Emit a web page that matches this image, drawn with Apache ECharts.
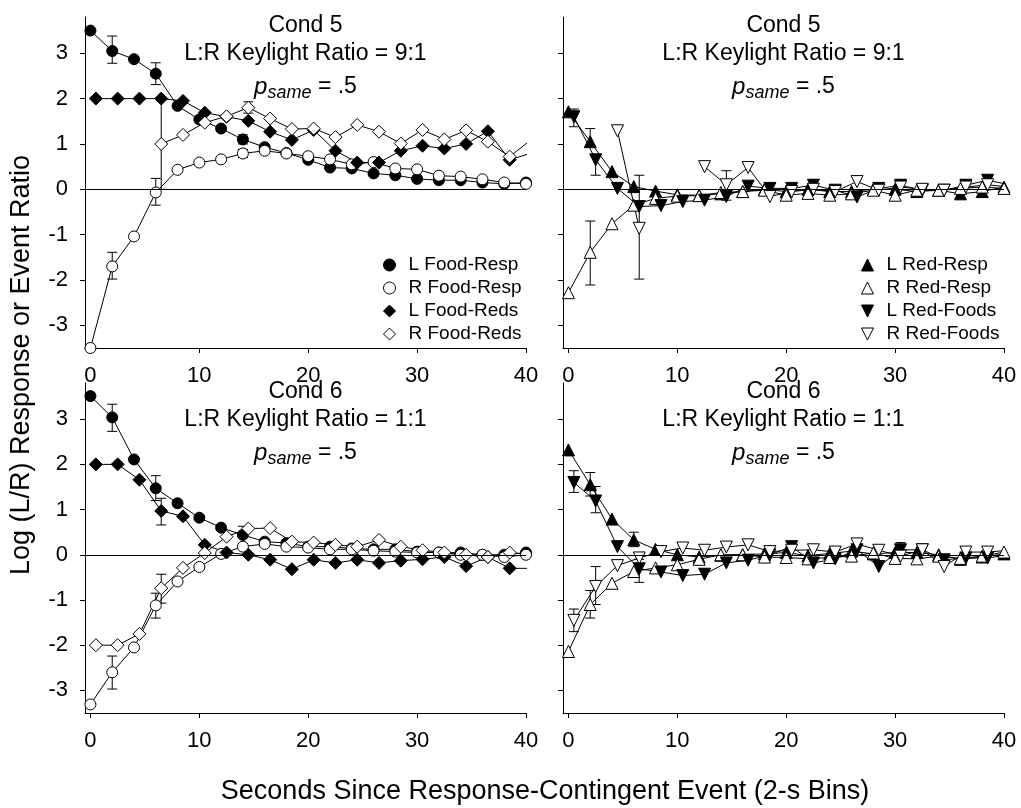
<!DOCTYPE html>
<html><head><meta charset="utf-8">
<script src="https://cdn.jsdelivr.net/npm/echarts@6/dist/echarts.min.js"></script>
<style>html,body{margin:0;padding:0;background:#fff}#c{width:1021px;height:808px}</style>
</head><body><div id="c"></div>
<script>
// ---- data ----
const respX  = [0,2,4,6,8,10,12,14,16,18,20,22,24,26,28,30,32,34,36,38,40];
const eventX = [0.5,2.5,4.5,6.5,8.5,10.5,12.5,14.5,16.5,18.5,20.5,22.5,24.5,26.5,28.5,30.5,32.5,34.5,36.5,38.5,40.5];
const xTicks = [0,10,20,30,40];
const yTicks = [-3,-2,-1,0,1,2,3];

// Cond 5, food panel (top-left)
const c5LFoodResp = [3.5,3.05,2.87,2.55,1.84,1.54,1.34,1.1,0.93,0.8,0.65,0.48,0.46,0.35,0.31,0.23,0.2,0.2,0.15,0.12,0.15];
const c5RFoodResp = [-3.5,-1.7,-1.04,-0.07,0.43,0.59,0.66,0.79,0.85,0.79,0.73,0.66,0.55,0.6,0.46,0.44,0.3,0.28,0.22,0.15,0.12];
const c5LFoodReds = [2,2,2,2,1.95,1.69,1.6,1.51,1.27,1.09,1.31,0.85,0.59,0.59,0.85,0.96,0.9,1.0,1.28,0.65,0.8];
const c5RFoodReds = [null,null,null,1.0,1.2,1.47,1.61,1.8,1.56,1.33,1.34,1.15,1.42,1.27,1.01,1.31,1.1,1.3,1.05,0.72,1.1];
// Cond 5, red panel (top-right)
const c5LRedResp  = [1.71,1.05,0.39,0.06,-0.04,-0.12,-0.13,-0.1,-0.05,0.0,-0.05,0.0,-0.05,-0.05,0.0,0.0,-0.05,-0.02,-0.1,-0.05,0.05];
const c5RRedResp  = [-2.28,-1.39,-0.76,-0.35,-0.2,-0.15,-0.14,-0.07,-0.05,-0.02,-0.13,-0.09,-0.13,-0.1,-0.02,-0.13,-0.02,-0.02,0.02,0.05,0.02];
const c5LRedFoods = [1.6,0.65,0.02,-0.38,-0.36,-0.27,-0.24,-0.16,0.07,0.02,0.02,0.09,-0.02,-0.17,0.02,0.09,-0.02,-0.02,0.09,0.2,0.1];
const c5RRedFoods = [null,null,1.29,-0.86,null,null,0.5,0.1,0.48,-0.16,-0.05,0.0,-0.05,0.17,-0.02,0.05,0.0,-0.02,0.05,0.1,0.05];
// Cond 6, food panel (bottom-left)
const c6LFoodResp = [3.51,3.04,2.11,1.47,1.14,0.82,0.6,0.44,0.29,0.26,0.18,0.18,0.14,0.12,0.12,0.07,0.05,0.05,0.0,0.0,0.05];
const c6RFoodResp = [-3.31,-2.6,-2.05,-1.12,-0.59,-0.27,0.02,0.18,0.24,0.18,0.16,0.12,0.12,0.09,0.07,0.05,0.05,0.0,0.0,-0.05,0.0];
const c6LFoodReds = [2.0,2.0,1.66,0.97,0.85,0.22,0.05,0.0,-0.11,-0.32,-0.11,-0.18,-0.11,-0.18,-0.13,-0.1,-0.05,-0.25,-0.05,-0.3,-0.3];
const c6RFoodReds = [-2.0,-2.0,-1.75,-0.74,-0.29,0.04,0.4,0.58,0.59,0.29,0.27,0.22,0.18,0.33,0.18,0.1,0.05,0.0,-0.05,0.05,0.0];
// Cond 6, red panel (bottom-right)
const c6LRedResp  = [2.32,1.55,0.79,0.33,0.12,0.0,-0.05,-0.01,0.0,0.02,0.05,-0.02,0.03,0.08,0.02,0.05,0.05,0.0,-0.1,-0.05,0.02];
const c6RRedResp  = [-2.14,-1.1,-0.63,-0.37,-0.29,-0.22,-0.1,0.0,0.0,-0.05,-0.06,-0.09,-0.06,-0.03,0.04,-0.08,-0.09,-0.03,-0.08,-0.03,0.06];
const c6LRedFoods = [1.6,1.19,0.18,-0.31,-0.38,-0.46,-0.43,-0.18,-0.12,0.0,0.18,-0.18,-0.09,0.11,-0.26,0.11,0.11,-0.11,-0.07,-0.07,0.0];
const c6RRedFoods = [-1.45,-0.7,-0.24,-0.07,0.07,0.15,0.1,0.17,0.22,0.07,0.1,0.11,0.06,0.24,0.1,-0.03,0.11,-0.26,0.06,0.06,0.1];

// error bars [x, low, high]
const errTL = [[2,2.78,3.38],[6,2.31,2.79],[14,1.0,1.2],[2,-1.98,-1.39],[6,-0.35,0.24],[14,0.7,0.88],[6.5,0,2],[14.5,1.68,1.93]];
const errTR = [[0.5,1.38,1.77],[2,0.98,1.34],[2.5,0.31,0.72],[2,-2.11,-0.7],[6.5,-1.98,0.31],[14.5,-0.24,0.41]];
const errBL = [[2,2.73,3.33],[6,1.2,1.75],[14,0.25,0.63],[6.5,0.66,1.25],[2,-2.97,-2.24],[6,-1.4,-0.85],[6.5,-1.07,-0.43]];
const errBR = [[0.5,1.38,1.86],[2,1.3,1.82],[2.5,0.93,1.51],[6,0.18,0.5],[6.5,-0.61,-0.1],[2.5,-1.1,-0.26],[2,-1.4,-0.79],[0.5,-1.7,-1.2],[30.5,0.0,0.27]];

const panelTitles = ['Cond 5','Cond 5','Cond 6','Cond 6'];
const ratioTitles = ['L:R Keylight Ratio = 9:1','L:R Keylight Ratio = 9:1','L:R Keylight Ratio = 1:1','L:R Keylight Ratio = 1:1'];
const yTitle = 'Log (L/R) Response or Event Ratio';
const xTitle = 'Seconds Since Response-Contingent Event (2-s Bins)';

// ---- chart ----
const FONT = 'Liberation Sans, Arial, sans-serif';
const DOWN = 'path://M0,0L10,0L5,10Z';
const grids = [
  {left:85, top:17, width:441, height:331},
  {left:563, top:17, width:441, height:331},
  {left:85, top:383, width:441, height:330},
  {left:563, top:383, width:441, height:330}
];
const xAxes = grids.map((g,i)=>({
  type:'value', gridIndex:i, min:-0.5, max:40,
  axisLine:{onZero:false, lineStyle:{color:'#000',width:1}},
  axisTick:{customValues:xTicks, length:5, lineStyle:{color:'#000'}},
  axisLabel:{customValues:xTicks, color:'#000', fontSize:22, fontFamily:FONT, margin:17},
  splitLine:{show:false}
}));
const yAxes = grids.map((g,i)=>({
  type:'value', gridIndex:i, min:-3.5, max:3.8,
  axisLine:{onZero:false, lineStyle:{color:'#000',width:1}},
  axisTick:{customValues:yTicks, length:5, lineStyle:{color:'#000'}},
  axisLabel:{show: i%2===0, customValues:yTicks, color:'#000', fontSize:22, fontFamily:FONT, margin:17},
  splitLine:{show:false}
}));

function ser(gi, name, xs, ys, symbol, filled, size){
  return {
    type:'line', name, xAxisIndex:gi, yAxisIndex:gi,
    data: xs.map((x,k)=>[x, ys[k]]),
    symbol, symbolSize:size, showAllSymbol:true, clip:true,
    lineStyle:{color:'#000', width:1},
    itemStyle:{color: filled?'#000':'#fff', borderColor:'#000', borderWidth:1},
    emphasis:{disabled:true}, animation:false, z:3
  };
}
function errSer(gi, data){
  return {
    type:'custom', xAxisIndex:gi, yAxisIndex:gi, data, z:1, animation:false, silent:true,
    renderItem:(params, api)=>{
      const x = api.value(0);
      const p1 = api.coord([x, api.value(1)]);
      const p2 = api.coord([x, api.value(2)]);
      const w = 5;
      const st = {stroke:'#000', lineWidth:1};
      return {type:'group', children:[
        {type:'line', shape:{x1:p1[0],y1:p1[1],x2:p2[0],y2:p2[1]}, style:st},
        {type:'line', shape:{x1:p1[0]-w,y1:p1[1],x2:p1[0]+w,y2:p1[1]}, style:st},
        {type:'line', shape:{x1:p2[0]-w,y1:p2[1],x2:p2[0]+w,y2:p2[1]}, style:st}
      ]};
    }
  };
}
function zeroLine(gi){
  return {type:'line', xAxisIndex:gi, yAxisIndex:gi, data:[], z:1, silent:true, animation:false,
    markLine:{silent:true, symbol:['none','none'], label:{show:false}, animation:false,
      lineStyle:{color:'#000', width:1, type:'solid'}, data:[{yAxis:0}]}};
}

const series = [
  zeroLine(0), zeroLine(1), zeroLine(2), zeroLine(3),
  errSer(0, errTL), errSer(1, errTR), errSer(2, errBL), errSer(3, errBR),
  ser(0,'L Food-Resp',respX,c5LFoodResp,'circle',true,11),
  ser(0,'R Food-Resp',respX,c5RFoodResp,'circle',false,11),
  ser(0,'L Food-Reds',eventX,c5LFoodReds,'diamond',true,13),
  ser(0,'R Food-Reds',eventX,c5RFoodReds,'diamond',false,13),
  ser(1,'L Red-Resp',respX,c5LRedResp,'triangle',true,12),
  ser(1,'R Red-Resp',respX,c5RRedResp,'triangle',false,12),
  ser(1,'L Red-Foods',eventX,c5LRedFoods,DOWN,true,12),
  ser(1,'R Red-Foods',eventX,c5RRedFoods,DOWN,false,12),
  ser(2,'L Food-Resp',respX,c6LFoodResp,'circle',true,11),
  ser(2,'R Food-Resp',respX,c6RFoodResp,'circle',false,11),
  ser(2,'L Food-Reds',eventX,c6LFoodReds,'diamond',true,13),
  ser(2,'R Food-Reds',eventX,c6RFoodReds,'diamond',false,13),
  ser(3,'L Red-Resp',respX,c6LRedResp,'triangle',true,12),
  ser(3,'R Red-Resp',respX,c6RRedResp,'triangle',false,12),
  ser(3,'L Red-Foods',eventX,c6LRedFoods,DOWN,true,12),
  ser(3,'R Red-Foods',eventX,c6RRedFoods,DOWN,false,12)
];

function legend(left, top, items){
  return {orient:'vertical', left, top, itemGap:3, itemWidth:12, itemHeight:12,
    selectedMode:false, textStyle:{fontSize:19, fontFamily:FONT, color:'#000', padding:[0,0,0,8], lineHeight:20},
    itemStyle:{borderColor:'#000', borderWidth:1},
    data: items};
}

const graphics = [];
grids.forEach((g,i)=>{
  const cx = g.left + g.width/2;
  const t0 = g.top;
  graphics.push({type:'text', x:cx, y:t0+9, style:{text:panelTitles[i], font:'23px '+FONT, fill:'#000', align:'center', verticalAlign:'middle'}});
  graphics.push({type:'text', x:cx, y:t0+37, style:{text:ratioTitles[i], font:'23px '+FONT, fill:'#000', align:'center', verticalAlign:'middle'}});
  graphics.push({type:'text', x:cx, y:t0+70, style:{text:'{p|p}{s|same}{n| = .5}', align:'center', verticalAlign:'middle',
    rich:{p:{fontSize:24, fontStyle:'italic', fontFamily:FONT, lineHeight:30, fill:'#000'},
          s:{fontSize:18, fontStyle:'italic', fontFamily:FONT, lineHeight:18, verticalAlign:'bottom', fill:'#000'},
          n:{fontSize:23, fontFamily:FONT, lineHeight:30, fill:'#000'}}}});
});
graphics.push({type:'text', x:22, y:365, rotation:Math.PI/2, style:{text:yTitle, font:'27px '+FONT, fill:'#000', align:'center', verticalAlign:'middle'}});
graphics.push({type:'text', x:545, y:792, style:{text:xTitle, font:'27px '+FONT, fill:'#000', align:'center', verticalAlign:'middle'}});

const chart = echarts.init(document.getElementById('c'), null, {renderer:'canvas'});
chart.setOption({
  animation:false,
  backgroundColor:'#fff',
  grid: grids,
  xAxis: xAxes,
  yAxis: yAxes,
  legend: [
    legend(378, 250, [{name:'L Food-Resp',icon:'circle'},{name:'R Food-Resp',icon:'circle'},{name:'L Food-Reds',icon:'diamond'},{name:'R Food-Reds',icon:'diamond'}]),
    legend(856, 250, [{name:'L Red-Resp',icon:'triangle'},{name:'R Red-Resp',icon:'triangle'},{name:'L Red-Foods',icon:DOWN},{name:'R Red-Foods',icon:DOWN}])
  ],
  series,
  graphic: graphics
});
</script></body></html>
